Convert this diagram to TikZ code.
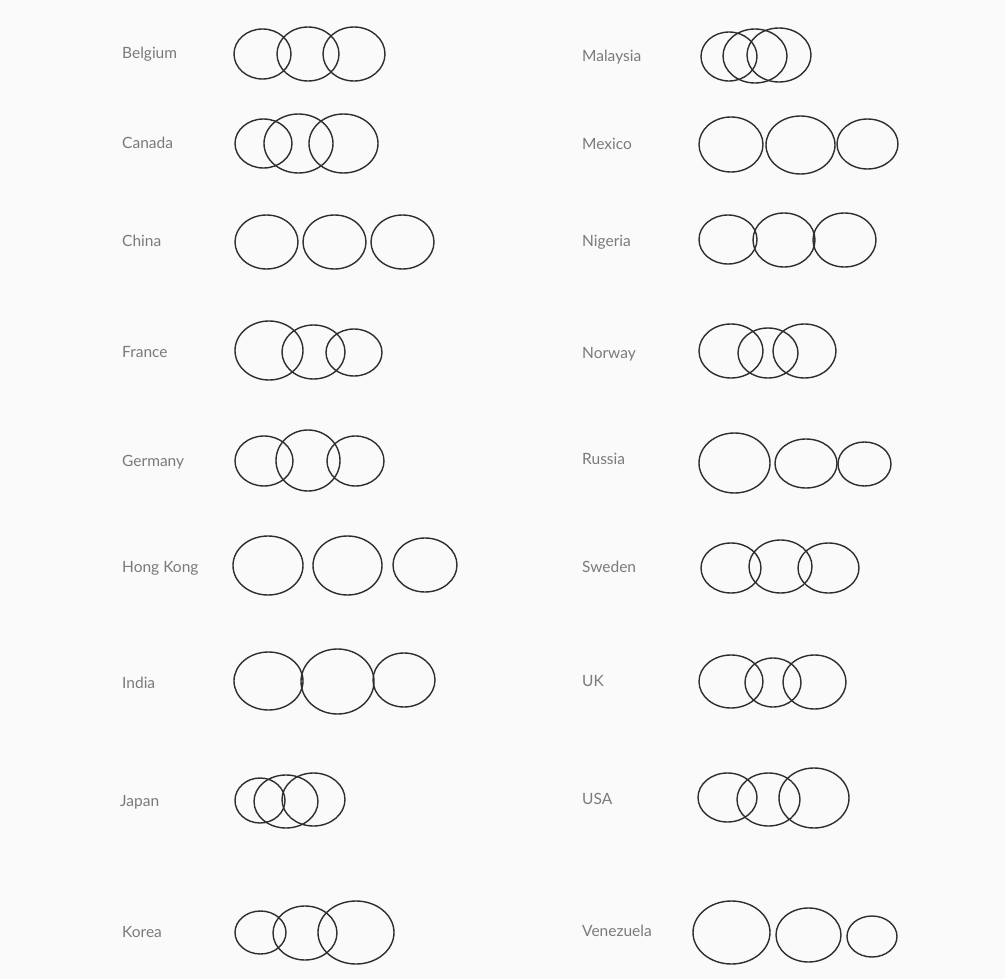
\documentclass[tikz,border=0pt]{standalone}
\usepackage{fontspec}
\setmainfont{Lato}
\usetikzlibrary{shapes.geometric}
\definecolor{bg}{HTML}{FAFAFA}
\definecolor{ink}{HTML}{2E2E2E}
\definecolor{txt}{HTML}{7A7A7A}
\newcommand\rg[5]{\node[ring, minimum width=#4pt, minimum height=#5pt] (#1) at (#2,#3) {};}
\begin{document}
\begin{tikzpicture}[x=1pt,y=-1pt,
  ring/.style={ellipse, draw=ink, line width=1.4pt, inner sep=0pt, outer sep=0pt},
  lbl/.style={anchor=mid west, inner sep=0pt, yshift=-2pt, text=txt, font=\fontsize{15.5}{17}\selectfont}]
\fill[bg] (0,0) rectangle (1005,979);
\useasboundingbox (0,0) rectangle (1005,979);
% left column
\node[lbl] (lbe) at (122,54) {Belgium};
\rg{be1}{262.5}{54}{57}{50}
\rg{be2}{308}{54}{62}{54}
\rg{be3}{354}{54}{62}{54}
\node[lbl] (lca) at (122,143.5) {Canada};
\rg{ca1}{263.5}{143.5}{57}{49}
\rg{ca2}{298.5}{143.5}{69}{59}
\rg{ca3}{343.5}{143.5}{69}{59}
\node[lbl] (lch) at (122,242) {China};
\rg{ch1}{266.5}{242}{63}{54}
\rg{ch2}{334.5}{242}{63}{54}
\rg{ch3}{402.5}{242}{63}{54}
\node[lbl] (lfr) at (122,353) {France};
\rg{fr1}{269}{350.5}{68}{59}
\rg{fr2}{313.5}{352}{63}{54}
\rg{fr3}{354}{352.5}{56}{47}
\node[lbl] (lge) at (122,462) {Germany};
\rg{ge1}{264}{461}{58}{50}
\rg{ge2}{308}{460.5}{64}{61}
\rg{ge3}{355.5}{461}{57}{50}
\node[lbl] (lhk) at (122,568) {Hong Kong};
\rg{hk1}{268}{565.5}{70}{59}
\rg{hk2}{347.5}{565.5}{69}{59}
\rg{hk3}{425}{565}{64}{54}
\node[lbl] (lin) at (122,684) {India};
\rg{in1}{268.5}{681}{69}{58}
\rg{in2}{337.5}{681.5}{73}{65}
\rg{in3}{404}{680}{62}{54}
\node[lbl] (lja) at (120,802) {Japan};
\rg{ja1}{260}{800.5}{50}{45}
\rg{ja2}{286}{801.5}{64}{53}
\rg{ja3}{313.5}{799.5}{63}{53}
\node[lbl] (lko) at (122,933) {Korea};
\rg{ko1}{260.5}{932.5}{51}{43}
\rg{ko2}{305}{933}{64}{54}
\rg{ko3}{356}{932.5}{76}{63}
% right column
\node[lbl] (lma) at (582,57) {Malaysia};
\rg{ma1}{729}{56.5}{56}{49}
\rg{ma2}{755}{56}{64}{54}
\rg{ma3}{779}{55}{64}{54}
\node[lbl] (lme) at (582,145) {Mexico};
\rg{me1}{731}{144.5}{64}{55}
\rg{me2}{800.5}{145}{69}{58}
\rg{me3}{867.5}{144}{61}{50}
\node[lbl] (lng) at (582,242) {Nigeria};
\rg{ng1}{728}{239.5}{58}{49}
\rg{ng2}{784}{240}{62}{54}
\rg{ng3}{844.5}{240}{63}{54}
\node[lbl] (lno) at (582,354) {Norway};
\rg{no1}{731}{351}{64}{54}
\rg{no2}{768}{353}{60}{50}
\rg{no3}{804.5}{351}{63}{54}
\node[lbl] (lru) at (582,460) {Russia};
\rg{ru1}{734.5}{463}{71}{60}
\rg{ru2}{806}{463.5}{62}{49}
\rg{ru3}{864.5}{464}{53}{44}
\node[lbl] (lsw) at (582,568) {Sweden};
\rg{sw1}{731}{568}{60}{50}
\rg{sw2}{780.5}{566.5}{63}{53}
\rg{sw3}{828.5}{568}{61}{50}
\node[lbl] (luk) at (582,682) {UK};
\rg{uk1}{731}{681.5}{64}{53}
\rg{uk2}{773}{682.5}{56}{49}
\rg{uk3}{814.5}{682}{63}{54}
\node[lbl] (lus) at (582,800) {USA};
\rg{us1}{727.5}{797.5}{59}{49}
\rg{us2}{768.5}{799.5}{63}{53}
\rg{us3}{814}{798}{70}{60}
\node[lbl] (lve) at (582,932) {Venezuela};
\rg{ve1}{731.5}{932.5}{77}{63}
\rg{ve2}{808.5}{935}{65}{54}
\rg{ve3}{872}{936.5}{50}{41}
\end{tikzpicture}
\end{document}
